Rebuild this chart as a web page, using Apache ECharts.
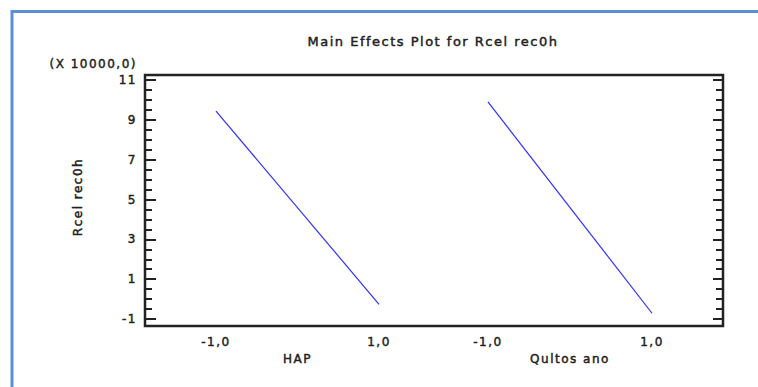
<!DOCTYPE html>
<html><head><meta charset="utf-8">
<script src="https://cdn.jsdelivr.net/npm/echarts@6/dist/echarts.min.js"></script>
<style>
html,body{margin:0;padding:0;background:#fff;}
#c{width:758px;height:387px;}
#c svg text{letter-spacing:1.5px;stroke:#222222;stroke-width:0.45px;}
</style></head><body><div id="c"></div>
<script>
// ---- data ----
const factors = ['HAP', 'Qultos ano'];
const levels = [-1, 1];
const levelLabels = ['-1,0', '1,0'];
const hapValues = [9.44, -0.26];
const qultosValues = [9.90, -0.71];
const yTicks = [-1, 1, 3, 5, 7, 9, 11];
const yMinorTicks = [-1, -0.5, 0, 0.5, 1, 1.5, 2, 2.5, 3, 3.5, 4, 4.5, 5, 5.5, 6, 6.5, 7, 7.5, 8, 8.5, 9, 9.5, 10, 10.5, 11];
const chartTitle = 'Main Effects Plot for Rcel rec0h';
const yName = 'Rcel rec0h';
const yScaleNote = '(X 10000,0)';

// ---- style ----
const FONT = 'DejaVu Sans';
const TXT = '#222222';
const LINE = '#3030ff';
const Y_MIN = -1.35, Y_MAX = 11.25;

const chart = echarts.init(document.getElementById('c'), null, {renderer: 'svg'});
const tickFmt = v => { const i = levels.indexOf(v); return i >= 0 ? levelLabels[i] : ''; };
const lblStyle = {fontFamily: FONT, fontSize: 12, color: TXT};

function factorX(idx, gridIdx, range) {
  return {
    gridIndex: gridIdx, type: 'value', min: -range, max: range,
    axisLine: {show: false}, axisTick: {show: false}, splitLine: {show: false},
    axisLabel: Object.assign({customValues: levels, formatter: tickFmt, margin: 10}, lblStyle),
    name: factors[idx], nameLocation: 'middle', nameGap: 24,
    nameTextStyle: {fontFamily: FONT, fontSize: 12, color: TXT}
  };
}
function tickY(gridIdx, pos, values, len, labels) {
  return {
    gridIndex: gridIdx, type: 'value', position: pos, min: Y_MIN, max: Y_MAX,
    axisLine: {show: false}, splitLine: {show: false},
    axisTick: {show: true, inside: true, length: len, customValues: values, lineStyle: {color: TXT, width: 2}},
    axisLabel: labels ? Object.assign({show: true, customValues: values, margin: 8}, lblStyle) : {show: false}
  };
}

chart.setOption({
  animation: false,
  backgroundColor: '#ffffff',
  grid: [
    {left: 145, top: 75, width: 578, height: 251, show: true, borderColor: TXT, borderWidth: 2.5, outerBoundsMode: 'none'},
    {left: 145, top: 75, width: 305, height: 251, outerBoundsMode: 'none'},
    {left: 450, top: 75, width: 240, height: 251, outerBoundsMode: 'none'}
  ],
  xAxis: [
    {gridIndex: 0, type: 'value', min: 0, max: 1, show: false},
    factorX(0, 1, 1.871),
    factorX(1, 2, 1.463)
  ],
  yAxis: [
    tickY(0, 'left', yTicks, 11, true),
    tickY(0, 'left', yMinorTicks, 7, false),
    tickY(0, 'right', yTicks, 10, false),
    tickY(0, 'right', yMinorTicks, 7, false),
    {gridIndex: 1, type: 'value', min: Y_MIN, max: Y_MAX, show: false},
    {gridIndex: 2, type: 'value', min: Y_MIN, max: Y_MAX, show: false}
  ],
  series: [
    {type: 'line', name: factors[0], xAxisIndex: 1, yAxisIndex: 4, showSymbol: false, symbol: 'none',
     lineStyle: {color: LINE, width: 1.2}, data: levels.map((x, i) => [x, hapValues[i]])},
    {type: 'line', name: factors[1], xAxisIndex: 2, yAxisIndex: 5, showSymbol: false, symbol: 'none',
     lineStyle: {color: LINE, width: 1.2}, data: levels.map((x, i) => [x, qultosValues[i]])}
  ],
  graphic: [
    {type: 'rect', silent: true, shape: {x: 12, y: 11.5, width: 800, height: 500},
     style: {fill: 'none', stroke: '#5b8fd6', lineWidth: 3}},
    {type: 'text', x: 433, y: 41, style: {text: chartTitle, fontFamily: FONT, fontSize: 13, fill: TXT, align: 'center', verticalAlign: 'middle'}},
    {type: 'text', x: 137, y: 64, style: {text: yScaleNote, fontFamily: FONT, fontSize: 12, fill: TXT, align: 'right', verticalAlign: 'middle'}},
    {type: 'text', x: 78, y: 197, rotation: Math.PI / 2, style: {text: yName, fontFamily: FONT, fontSize: 12, fill: TXT, align: 'center', verticalAlign: 'middle'}}
  ]
});
</script></body></html>
